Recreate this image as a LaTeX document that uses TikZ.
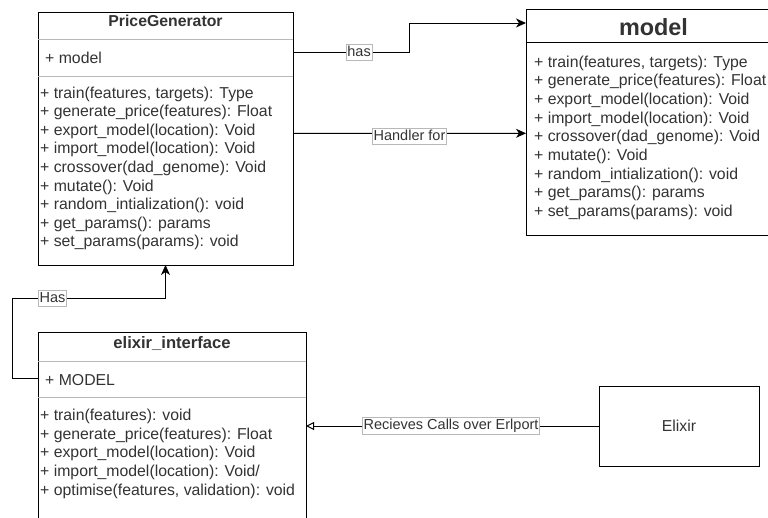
\documentclass[tikz,border=0pt]{standalone}
\usepackage{fontspec}
\setmainfont{Liberation Sans}
\usetikzlibrary{arrows.meta,calc}
\definecolor{ink}{HTML}{333333}
\definecolor{sep}{HTML}{B8B8B8}

\begin{document}
\begin{tikzpicture}[x=1pt,y=-1pt,
  box/.style={draw=black,line width=1pt,fill=white,rectangle,
              inner sep=0pt,outer sep=0pt},
  member/.style={anchor=base west,inner sep=0pt,text=ink,
                 font=\fontsize{15.8}{18}\selectfont},
  classname/.style={anchor=base,inner sep=0pt,text=ink,
                    font=\fontsize{15.8}{18}\selectfont\bfseries},
  divider/.style={draw=sep,line width=1pt},
  link/.style={draw=black,line width=1pt},
  solidtip/.style={-{Stealth[length=10pt,width=9pt,inset=3pt]}},
  opentip/.style={-{Triangle[open,length=8pt,width=8pt,line width=1pt]}},
  tag/.style={fill=white,draw=sep,line width=0.6pt,text=ink,
              font=\fontsize{14.5}{17}\selectfont,
              inner xsep=1pt,inner ysep=1pt,text height=11pt,text depth=3.5pt}
]
\useasboundingbox (0,0) rectangle (768,517);
\clip (0,0) rectangle (768,517);
\fill[white] (0,0) rectangle (768,517);

% ---- PriceGenerator class ----
\node[box,minimum width=255pt,minimum height=253pt] (pg) at (165.5,138.5) {};
\draw[divider] (38,39) -- (293,39);
\draw[divider] (38,76) -- (293,76);
\node[classname] (pgtitle) at (165.5,26.5) {PriceGenerator};
\node[member] (pgattr) at (45,63.5) {+ model};
\foreach \txt [count=\i from 0] in {%
  {+ train(features, targets): Type},
  {+ generate\_price(features): Float},
  {+ export\_model(location): Void},
  {+ import\_model(location): Void},
  {+ crossover(dad\_genome): Void},
  {+ mutate(): Void},
  {+ random\_intialization(): void},
  {+ get\_params(): params},
  {+ set\_params(params): void}}
  \node[member] (pgm\i) at (40,98+18.6*\i) {\txt};

% ---- model class ----
\node[box,minimum width=255pt,minimum height=226.7pt] (md) at (653.5,122.35) {};
\draw[draw=black,line width=1pt] (526,42.5) -- (781,42.5);
\node[classname,font=\fontsize{23.4}{26}\selectfont\bfseries] (mdtitle) at (653.5,35.5) {model};
\foreach \txt [count=\i from 0] in {%
  {+ train(features, targets): Type},
  {+ generate\_price(features): Float},
  {+ export\_model(location): Void},
  {+ import\_model(location): Void},
  {+ crossover(dad\_genome): Void},
  {+ mutate(): Void},
  {+ random\_intialization(): void},
  {+ get\_params(): params},
  {+ set\_params(params): void}}
  \node[member] (mdm\i) at (534,67+18.7*\i) {\txt};

% ---- elixir_interface class ----
\node[box,minimum width=268pt,minimum height=220pt] (ei) at (172,442) {};
\draw[divider] (38,361) -- (306,361);
\draw[divider] (38,397) -- (306,397);
\node[classname,font=\fontsize{16.6}{19}\selectfont\bfseries] (eititle) at (172,348) {elixir\_interface};
\node[member] (eiattr) at (45,385) {+ MODEL};
\foreach \txt [count=\i from 0] in {%
  {+ train(features): void},
  {+ generate\_price(features): Float},
  {+ export\_model(location): Void},
  {+ import\_model(location): Void/},
  {+ optimise(features, validation): void}}
  \node[member] (eim\i) at (40,420.5+18.7*\i) {\txt};

% ---- Elixir process ----
\node[box,minimum width=160pt,minimum height=80pt,text=ink,
      font=\fontsize{15.8}{18}\selectfont] (ex) at (679,426) {Elixir};

% ---- connectors ----
\draw[link,solidtip] ($(pg.north east)+(0,40.3)$)
  -- node[pos=0.57,tag] (hasA) {has} ++(116,0)
  |- ($(md.north west)+(0,14)$);
\draw[link,solidtip] ($(pg.north east)+(0,121.3)$) -- ($(md.north west)+(0,124.3)$)
  node[pos=0.5,tag,yshift=-3pt] (handler) {Handler for};
\draw[link,solidtip] ($(ei.north west)+(0,46)$) -- ++(-26,0)
  |- ($(pg.south)+(0,33.3)$) -- (pg.south);
\node[tag] (hasB) at (52.5,298.3) {Has};
\draw[link,opentip] (ex.west) -- (ex.west -| ei.east)
  node[pos=0.505,tag] (calls) {Recieves Calls over Erlport};
\end{tikzpicture}
\end{document}
